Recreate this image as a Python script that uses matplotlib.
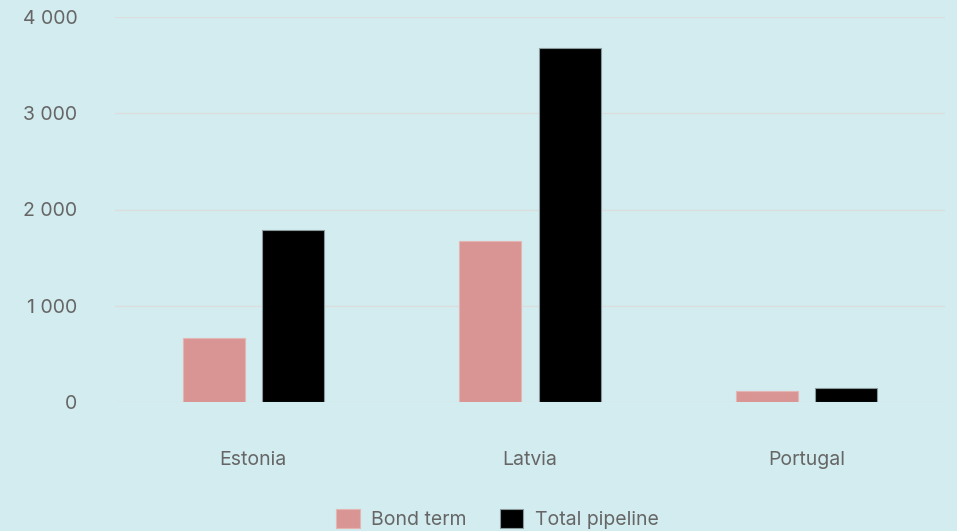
import numpy as np
import matplotlib.pyplot as plt
from matplotlib.ticker import FuncFormatter

countries = ['Estonia', 'Latvia', 'Portugal']
bond_term = [665, 1672, 114]
total_pipeline = [1790, 3676, 150]
series_names = ['Bond term', 'Total pipeline']

bg = '#d3ecef'
text_col = '#666666'

plt.rcParams['font.family'] = ['Inter', 'DejaVu Sans']

fig = plt.figure(figsize=(9.57, 5.31), dpi=100, facecolor=bg)
ax = fig.add_axes([115 / 957, 1 - 402 / 531, 830 / 957, 385 / 531], facecolor=bg)

x = np.arange(len(countries))
w = 0.224
off = 0.143
ax.bar(x - off, bond_term, w, color='#d99594', edgecolor='#e3b5b3', linewidth=0.8,
       label=series_names[0], zorder=3)
ax.bar(x + off, total_pipeline, w, color='#000000', edgecolor='#8a9a9c', linewidth=0.8,
       label=series_names[1], zorder=3)

ax.set_xlim(-0.5, 2.5)
ax.set_ylim(0, 4000)
ax.set_yticks([0, 1000, 2000, 3000, 4000])
ax.yaxis.set_major_formatter(FuncFormatter(lambda v, p: f'{int(v):,}'.replace(',', ' ')))
ax.set_xticks(x)
ax.set_xticklabels(countries)
ax.grid(axis='y', color='#dcdedd', linewidth=1, zorder=0)
for s in ax.spines.values():
    s.set_visible(False)
ax.tick_params(axis='both', length=0, colors=text_col, labelsize=14)
ax.tick_params(axis='y', pad=27)
ax.tick_params(axis='x', pad=35)

fig.legend(loc='center', bbox_to_anchor=(0.52, 1 - 519 / 531), ncol=2, frameon=False,
           fontsize=14, labelcolor=text_col, handlelength=1.2, handleheight=1.15,
           columnspacing=1.7, handletextpad=0.6)

fig.savefig('out.png', dpi=100, facecolor=bg)
